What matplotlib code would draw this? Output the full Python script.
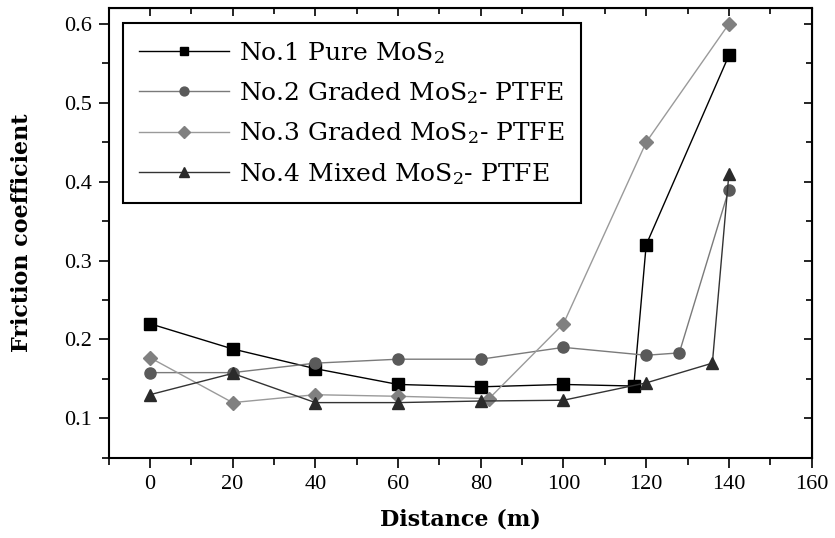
import matplotlib
matplotlib.use("Agg")
import matplotlib.pyplot as plt
from matplotlib.ticker import MultipleLocator

# data
x1 = [0, 20, 40, 60, 80, 100, 117, 120, 140]
y1 = [0.22, 0.188, 0.163, 0.143, 0.140, 0.143, 0.141, 0.32, 0.56]

x2 = [0, 20, 40, 60, 80, 100, 120, 128, 140]
y2 = [0.158, 0.158, 0.170, 0.175, 0.175, 0.190, 0.180, 0.183, 0.39]

x3 = [0, 20, 40, 60, 82, 100, 120, 140]
y3 = [0.177, 0.120, 0.130, 0.128, 0.125, 0.220, 0.450, 0.600]

x4 = [0, 20, 40, 60, 80, 100, 120, 136, 140]
y4 = [0.130, 0.157, 0.120, 0.120, 0.122, 0.123, 0.145, 0.170, 0.41]

labels = ["No.1 Pure MoS$_2$",
          "No.2 Graded MoS$_2$- PTFE",
          "No.3 Graded MoS$_2$- PTFE",
          "No.4 Mixed MoS$_2$- PTFE"]

plt.rcParams["font.family"] = "Liberation Serif"
plt.rcParams["mathtext.fontset"] = "dejavuserif"

fig = plt.figure(figsize=(8.35, 5.38), dpi=100)
ax = fig.add_axes([0.130, 0.149, 0.842, 0.836])

ax.plot(x1, y1, "-s", color="black", lw=1.0, ms=8, label=labels[0])
ax.plot(x2, y2, "-o", color="#7a7a7a", mfc="#5a5a5a", mec="#5a5a5a", lw=1.0, ms=8, label=labels[1])
ax.plot(x3, y3, "-D", color="#9a9a9a", mfc="#808080", mec="#808080", lw=1.0, ms=7.5, label=labels[2])
ax.plot(x4, y4, "-^", color="#333333", mfc="#2a2a2a", mec="#2a2a2a", lw=1.0, ms=9, label=labels[3])

ax.set_xlim(-10, 160)
ax.set_ylim(0.05, 0.62)
ax.xaxis.set_major_locator(MultipleLocator(20))
ax.xaxis.set_minor_locator(MultipleLocator(10))
ax.yaxis.set_major_locator(MultipleLocator(0.1))
ax.yaxis.set_minor_locator(MultipleLocator(0.05))
ax.tick_params(which="major", direction="out", length=7, width=1.2, labelsize=16, pad=5)
ax.tick_params(which="minor", direction="out", length=5, width=1.2)
for s in ax.spines.values():
    s.set_linewidth(1.5)

top = ax.secondary_xaxis("top")
top.xaxis.set_major_locator(MultipleLocator(20))
top.xaxis.set_minor_locator(MultipleLocator(10))
top.tick_params(which="major", direction="in", length=6, width=1.2, labeltop=False)
top.tick_params(which="minor", direction="in", length=4, width=1.2)
right = ax.secondary_yaxis("right")
right.yaxis.set_major_locator(MultipleLocator(0.1))
right.yaxis.set_minor_locator(MultipleLocator(0.05))
right.tick_params(which="major", direction="in", length=6, width=1.2, labelright=False)
right.tick_params(which="minor", direction="in", length=4, width=1.2)

ax.set_xlabel("Distance (m)", fontsize=16, fontweight="bold", family="DejaVu Serif", labelpad=11)
ax.set_ylabel("Friction coefficient", fontsize=16, fontweight="bold", family="DejaVu Serif", labelpad=22)

leg = ax.legend(loc="upper left", bbox_to_anchor=(0.02, 0.966), borderaxespad=0,
                fancybox=False, edgecolor="black", framealpha=1,
                handlelength=3.6, handletextpad=0.4, borderpad=0.65,
                labelspacing=0.58, markerscale=0.8,
                prop={"family": "DejaVu Serif", "size": 18})
leg.get_frame().set_linewidth(1.5)

fig.savefig("out.png", dpi=100)
